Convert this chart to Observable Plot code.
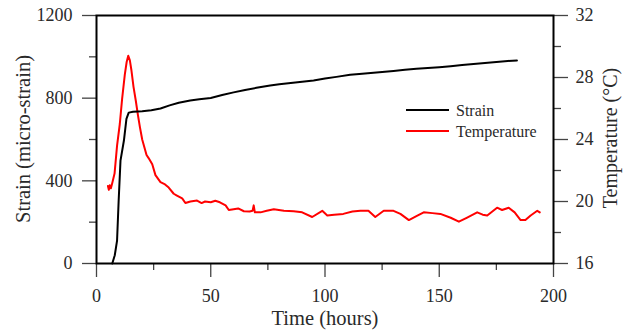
<!DOCTYPE html>
<html>
<head>
<meta charset="utf-8">
<script src="https://cdn.jsdelivr.net/npm/d3@7"></script>
<script src="https://cdn.jsdelivr.net/npm/@observablehq/plot@0.6"></script>
<style>
  html, body { margin: 0; padding: 0; background: #fff; }
  #chart svg { display: block; }
  #chart svg, #chart svg text { font-family: "Liberation Serif", "DejaVu Serif", serif !important; }
</style>
</head>
<body>
<div id="chart"></div>
<script>
// ---- data ----
const strainTime = [6.9, 8, 9, 9.7, 10.5, 12, 13.1, 14.1, 16, 20,
  24, 28, 32, 36, 41, 45, 50, 55, 60, 65,
  70, 76, 80, 85, 90, 95, 100, 105, 111, 115,
  120, 125, 130, 135, 140, 145, 150, 155, 160, 165,
  170, 175, 180, 184];
const strainValue = [0, 40, 111, 305, 498, 595, 700, 730, 734, 737,
  742, 750, 765, 778, 789, 795, 801, 815, 828, 840,
  850, 861, 867, 873, 880, 886, 895, 903, 913, 917,
  922, 927, 932, 937, 942, 946, 950, 955, 960, 965,
  970, 975, 980, 982];

const tempTime = [5, 5.4, 5.8, 6.3, 6.9, 7.9, 9, 10.2, 11.2, 12.4,
  13.2, 13.9, 14.6, 15.3, 16.2, 17.2, 18.1, 19, 20, 21.9,
  22.8, 24.4, 25.8, 28, 30, 31.6, 33.8, 35, 37.5, 38.9,
  41.1, 44, 46, 47.5, 50, 52, 54, 56.5, 57.9, 60,
  62, 64.5, 67, 68.3, 68.8, 69.3, 71.8, 74.5, 77.6, 82,
  86.3, 90, 94.4, 98.8, 101, 104, 108, 112, 115.5, 119,
  122, 125.7, 130, 133, 136.7, 140, 143.2, 147, 150.5, 155,
  158.6, 162, 166.6, 169, 171, 175.3, 177.5, 180.4, 183, 185.6,
  187.7, 190, 192.9, 194];
const tempValue = [21.0, 20.75, 21.05, 20.85, 21.2, 21.8, 23.6, 25.0, 26.6, 28.2,
  29.0, 29.4, 29.1, 28.45, 27.4, 26.5, 25.6, 24.8, 24.0, 23.0,
  22.8, 22.4, 21.7, 21.25, 21.1, 20.9, 20.5, 20.4, 20.2, 19.9,
  20.0, 20.06, 19.9, 20.0, 19.95, 20.05, 19.95, 19.75, 19.45, 19.5,
  19.55, 19.37, 19.35, 19.4, 19.75, 19.3, 19.3, 19.4, 19.5, 19.4,
  19.37, 19.3, 19.0, 19.4, 19.1, 19.15, 19.2, 19.35, 19.4, 19.4,
  19.0, 19.4, 19.4, 19.2, 18.8, 19.05, 19.3, 19.25, 19.2, 18.95,
  18.7, 18.95, 19.3, 19.15, 19.1, 19.6, 19.45, 19.6, 19.3, 18.8,
  18.8, 19.1, 19.4, 19.3];

const xTicks = [0, 50, 100, 150, 200];
const xMinorTicks = [25, 75, 125, 175];
const strainTicks = [0, 400, 800, 1200];
const strainMinorTicks = [200, 600, 1000];
const tempTicks = [16, 20, 24, 28, 32];
const tempMinorTicks = [18, 22, 26, 30];

const seriesNames = ["Strain", "Temperature"];
const xTitle = "Time (hours)";
const yTitle = "Strain (micro-strain)";
const y2Title = "Temperature (\u00B0C)";

// temperature -> strain-scale mapping for the secondary axis
const tMin = 16, tMax = 32, sMax = 1200;
const t2s = t => (t - tMin) / (tMax - tMin) * sMax;

const strainData = strainTime.map((t, i) => ({t, v: strainValue[i]}));
const tempData = tempTime.map((t, i) => ({t, v: tempValue[i]}));

const W = 629, H = 335;
const mL = 96, mR = 76, mT = 15, mB = 72;
const tickColor = "#444";
const textColor = "#2a2a2a";
const font = "Liberation Serif, DejaVu Serif, serif";
const fmt = d3.format("d");

const plot = Plot.plot({
  width: W, height: H,
  marginLeft: mL, marginRight: mR, marginTop: mT, marginBottom: mB,
  style: {fontFamily: font, fontSize: "18px", color: textColor, background: "#fff"},
  x: {domain: [0, 200]},
  y: {domain: [0, sMax]},
  marks: [
    Plot.axisX({ticks: xTicks, tickFormat: fmt, tickSize: 14, tickPadding: 12, label: null, stroke: tickColor, fill: textColor, strokeWidth: 1.3}),
    Plot.axisX({ticks: xMinorTicks, tickSize: 7, label: null, stroke: tickColor, fill: "none", tickFormat: () => "", strokeWidth: 1.3}),
    Plot.axisY({ticks: strainTicks, tickFormat: fmt, tickSize: 14, tickPadding: 10, label: null, stroke: tickColor, fill: textColor, strokeWidth: 1.3}),
    Plot.axisY({ticks: strainMinorTicks, tickSize: 7, label: null, stroke: tickColor, fill: "none", tickFormat: () => "", strokeWidth: 1.3}),
    Plot.axisY({anchor: "right", ticks: tempTicks.map(t2s), tickFormat: d => String(Math.round(tMin + d / sMax * (tMax - tMin))), tickSize: 14, tickPadding: 8, label: null, stroke: tickColor, fill: textColor, strokeWidth: 1.3}),
    Plot.axisY({anchor: "right", ticks: tempMinorTicks.map(t2s), tickSize: 7, label: null, stroke: tickColor, fill: "none", tickFormat: () => "", strokeWidth: 1.3}),
    Plot.frame({stroke: "#000", strokeWidth: 2}),
    Plot.line(tempData, {x: "t", y: d => t2s(d.v), stroke: "#ff0000", strokeWidth: 2, curve: "linear"}),
    Plot.line(strainData, {x: "t", y: "v", stroke: "#000", strokeWidth: 2, curve: "linear"})
  ]
});

document.getElementById("chart").appendChild(plot);

// titles and legend
const svg = d3.select(plot);
svg.append("text").attr("x", 325).attr("y", 325).attr("text-anchor", "middle")
  .attr("font-family", font).attr("font-size", 20.5).attr("fill", textColor).text(xTitle);
svg.append("text").attr("transform", "translate(30,139) rotate(-90)").attr("text-anchor", "middle")
  .attr("font-family", font).attr("font-size", 20.5).attr("fill", textColor).text(yTitle);
svg.append("text").attr("transform", "translate(617,138) rotate(-90)").attr("text-anchor", "middle")
  .attr("font-family", font).attr("font-size", 20).attr("fill", textColor).text(y2Title);

const legendColors = ["#000", "#ff0000"];
seriesNames.forEach((name, i) => {
  const y = 110 + i * 21;
  svg.append("line").attr("x1", 406).attr("x2", 449).attr("y1", y).attr("y2", y)
    .attr("stroke", legendColors[i]).attr("stroke-width", 2);
  svg.append("text").attr("x", 456).attr("y", y + 5.5).attr("text-anchor", "start")
    .attr("font-family", font).attr("font-size", 16).attr("fill", textColor).text(name);
});
</script>
</body>
</html>
